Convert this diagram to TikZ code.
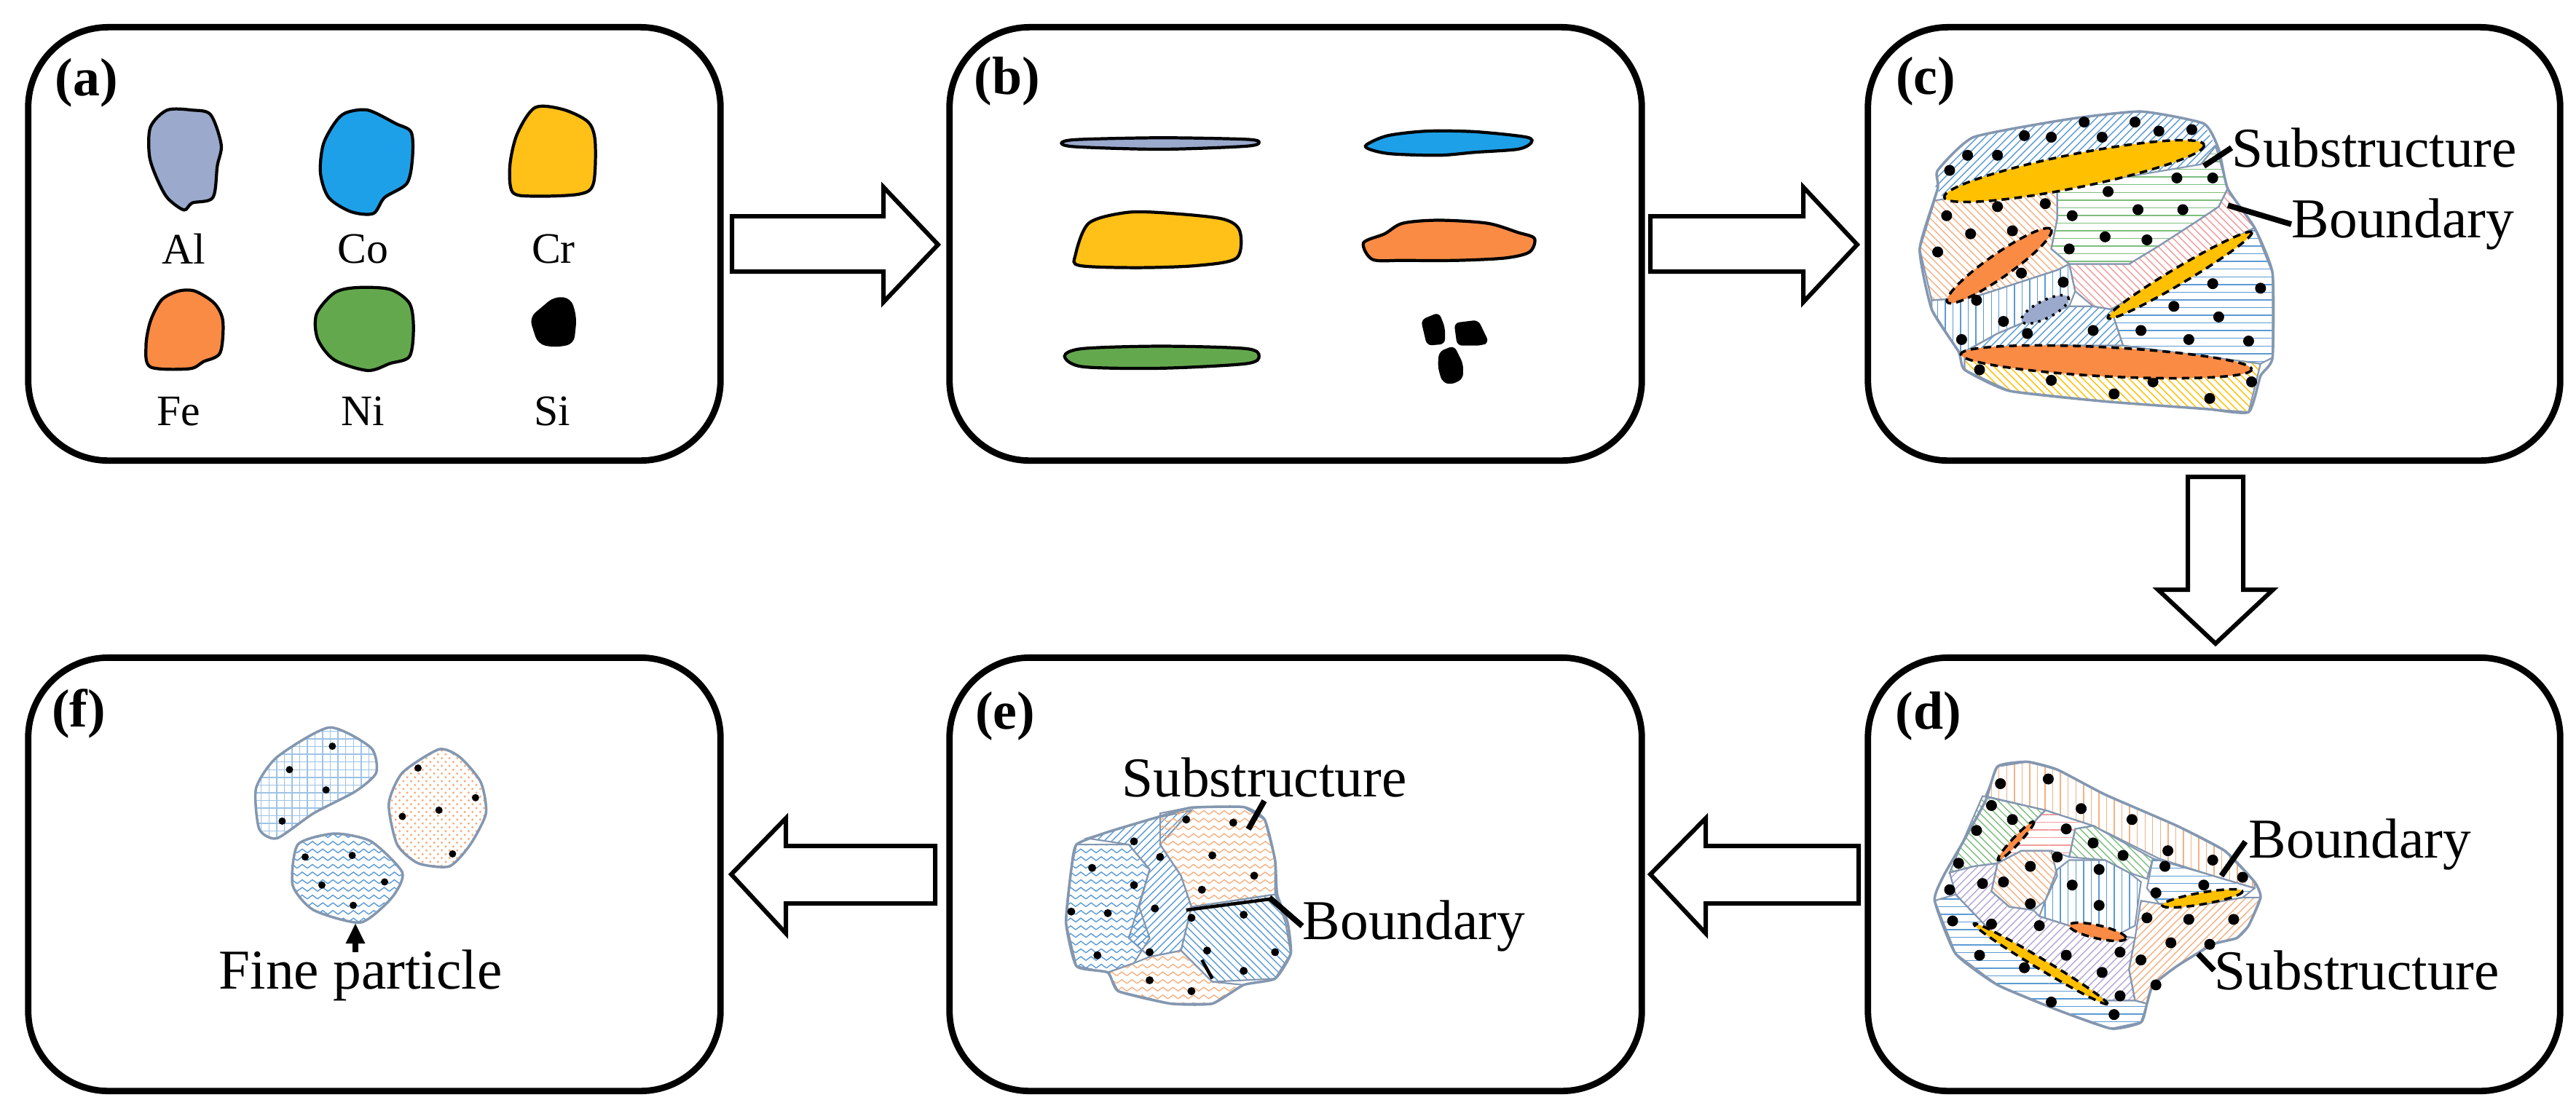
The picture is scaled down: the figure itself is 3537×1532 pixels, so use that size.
\documentclass[tikz,border=0pt]{standalone}
\usepackage{fontspec}
\setmainfont{Liberation Serif}
\usetikzlibrary{patterns,shapes.geometric,arrows.meta}
\definecolor{cAl}{HTML}{9AA9CC}
\definecolor{cCo}{HTML}{1EA0E8}
\definecolor{cCr}{HTML}{FFC018}
\definecolor{cFe}{HTML}{F98B45}
\definecolor{cNi}{HTML}{64A84E}
\definecolor{hb}{HTML}{5B9BD5}
\definecolor{ho}{HTML}{F4B183}
\definecolor{hg}{HTML}{7DBE7D}
\definecolor{hp}{HTML}{F19C9C}
\definecolor{hy}{HTML}{FFC000}
\definecolor{hv}{HTML}{B4A7D6}
\definecolor{gl}{HTML}{8497B0}
\pgfdeclarepatternformonly{zigzag}{\pgfpoint{-1pt}{-1pt}}{\pgfpoint{5pt}{4pt}}{\pgfpoint{4pt}{3pt}}{%
  \pgfsetlinewidth{0.4pt}\pgfpathmoveto{\pgfpoint{0pt}{0.5pt}}\pgfpathlineto{\pgfpoint{2pt}{2pt}}\pgfpathlineto{\pgfpoint{4pt}{0.5pt}}\pgfusepath{stroke}}
\begin{document}
\begin{tikzpicture}[x=0.01cm,y=-0.01cm,
  panel/.style={draw,line width=2.5pt,rounded corners=1.1cm,minimum width=9.5cm,minimum height=5.95cm,inner sep=0},
  plab/.style={font=\fontsize{21}{24}\selectfont\bfseries},
  elab/.style={font=\fontsize{17}{20}\selectfont},
  blab/.style={font=\fontsize{22}{26}\selectfont},
  part/.style={draw,line width=1.2pt},
  blk/.style={draw=black,line width=1.7pt,fill=white,line join=miter},
  reg/.style={draw=gl,line width=0.6pt},
  grain/.style={draw=gl,line width=1pt},
  dot/.style={circle,fill,inner sep=0,minimum size=0.15cm},
  sdot/.style={circle,fill,inner sep=0,minimum size=0.11cm},
  lead/.style={line width=2.2pt},
  ell/.style={draw,dashed,line width=1pt,dash pattern=on 3pt off 2pt}]
\useasboundingbox (0,0) rectangle (3537,1532);
% panels
\node[panel] (A) at (514,335) {};
\node[panel] (B) at (1779,335) {};
\node[panel] (C) at (3040,335) {};
\node[panel] (D) at (3040,1201) {};
\node[panel] (E) at (1779,1201) {};
\node[panel] (F) at (514,1201) {};
% block arrows
\draw[blk] (1005,297) -- (1213,297) -- (1213,257) -- (1288,336) -- (1213,415) -- (1213,373) -- (1005,373) -- cycle;
\draw[blk] (2266,297) -- (2476,297) -- (2476,257) -- (2550,336) -- (2476,415) -- (2476,373) -- (2266,373) -- cycle;
\draw[blk] (3004,655) -- (3080,655) -- (3080,810) -- (3121,810) -- (3042,884) -- (2963,810) -- (3004,810) -- cycle;
\draw[blk] (2552,1162) -- (2342,1162) -- (2342,1124) -- (2266,1201) -- (2342,1282) -- (2342,1241) -- (2552,1241) -- cycle;
\draw[blk] (1284,1162) -- (1079,1162) -- (1079,1124) -- (1004,1201) -- (1079,1282) -- (1079,1241) -- (1284,1241) -- cycle;
% labels
\node[plab] (la) at (119,114) {(a)};
\node[plab] (lb) at (1383,112) {(b)};
\node[plab] (lc) at (2644,112) {(c)};
\node[plab] (ld) at (2648,984) {(d)};
\node[plab] (le) at (1380,984) {(e)};
\node[plab] (lf) at (108,980) {(f)};
% ---------- (a)
\begin{scope}[xscale=0.7651,yscale=0.4847]
\draw[part,fill=cAl] plot[smooth cycle,tension=0.5] coordinates{(300,312)(345,312)(378,325)(397,410)(390,470)(382,560)(345,575)(330,595)(300,560)(280,500)(268,440)(270,360)};
\draw[part,fill=cCo] plot[smooth cycle,tension=0.5] coordinates{(620,320)(660,312)(710,350)(738,375)(740,450)(730,520)(690,560)(670,605)(630,600)(590,560)(575,490)(580,410)(600,350)};
\draw[part,fill=cCr] plot[smooth cycle,tension=0.5] coordinates{(960,305)(1010,310)(1055,345)(1068,400)(1065,520)(1040,550)(960,556)(920,545)(915,470)(928,380)};
\draw[part,fill=cFe] plot[smooth cycle,tension=0.5] coordinates{(320,825)(350,825)(385,860)(400,910)(395,1000)(365,1025)(340,1045)(270,1040)(262,980)(270,910)(290,850)};
\draw[part,fill=cNi] plot[smooth cycle,tension=0.5] coordinates{(640,815)(700,820)(735,860)(742,930)(735,1010)(700,1030)(660,1050)(600,1020)(570,960)(568,890)(600,830)};
\fill[rounded corners=3pt] (995,840)--(1025,845)--(1035,900)--(1030,975)--(995,985)--(965,975)--(950,900)--cycle;
\end{scope}
\node[elab] (tAl) at (252,342) {Al};
\node[elab] (tCo) at (498,342) {Co};
\node[elab] (tCr) at (760,342) {Cr};
\node[elab] (tFe) at (245,565) {Fe};
\node[elab] (tNi) at (498,565) {Ni};
\node[elab] (tSi) at (758,565) {Si};
% ---------- (b)
\begin{scope}[shift={(1130,10)},xscale=0.8292,yscale=0.4149]
\draw[part,fill=cAl] plot[smooth cycle,tension=0.5] coordinates{(395,450)(420,438)(560,432)(700,437)(722,447)(700,460)(560,470)(420,462)};
\draw[part,fill=cCo] plot[smooth cycle,tension=0.5] coordinates{(900,455)(935,425)(1000,410)(1080,412)(1165,430)(1172,450)(1150,470)(1080,480)(1020,490)(940,485)(905,470)};
\draw[part,fill=cCr] plot[smooth cycle,tension=0.5] coordinates{(440,715)(500,680)(560,680)(660,700)(690,740)(685,830)(620,855)(520,862)(425,855)(418,820)};
\draw[part,fill=cFe] plot[smooth cycle,tension=0.5] coordinates{(895,780)(930,750)(960,715)(1020,705)(1100,715)(1150,745)(1178,765)(1170,810)(1130,830)(1050,838)(960,838)(910,835)};
\draw[part,fill=cNi] plot[smooth cycle,tension=0.5] coordinates{(400,1155)(430,1130)(560,1122)(700,1130)(722,1155)(700,1180)(560,1195)(430,1190)};
\fill[rounded corners=2pt] (990,1035)--(1020,1010)--(1030,1060)--(1030,1115)--(1000,1120)--cycle;
\fill[rounded corners=2pt] (1045,1045)--(1085,1035)--(1103,1110)--(1090,1120)--(1050,1120)--cycle;
\fill[rounded corners=2pt] (1020,1140)--(1045,1120)--(1060,1180)--(1060,1230)--(1040,1250)--(1025,1240)--(1018,1190)--cycle;
\end{scope}
% ---------- (c)
\begin{scope}[shift={(2250,10)},xscale=0.8210,yscale=0.4149]
\path[pattern=north east lines,pattern color=hb] (500,540)--(560,430)--(720,370)--(840,345)--(945,385)--(965,460)--(940,520)--(700,600)--(510,635)--(495,590)--cycle;
\path[reg,pattern=horizontal lines,pattern color=hg] (700,600)--(940,520)--(965,460)--(985,600)--(970,660)--(940,700)--(870,790)--(820,850)--(720,850)--(690,800)--(700,700)--cycle;
\path[reg,pattern=north west lines,pattern color=ho] (510,635)--(700,600)--(700,700)--(690,800)--(720,850)--(700,870)--(560,960)--(490,970)--(470,800)--(495,640)--cycle;
\path[reg,pattern=vertical lines,pattern color=hb] (490,970)--(560,960)--(700,870)--(720,850)--(730,940)--(720,990)--(660,1030)--(600,1080)--(545,1140)--(535,1140)--(490,1000)--cycle;
\path[reg,pattern=north west lines,pattern color=hp] (720,850)--(820,850)--(870,790)--(940,700)--(970,660)--(985,600)--(1030,730)--(1000,760)--(880,900)--(790,1000)--(760,990)--(730,940)--cycle;
\path[reg,pattern=horizontal lines,pattern color=hb] (1030,730)--(1060,880)--(1060,1160)--(1040,1180)--(810,1120)--(790,1000)--(880,900)--(1000,760)--cycle;
\path[reg,pattern=north east lines,pattern color=hb] (600,1080)--(660,1030)--(720,990)--(760,990)--(790,1000)--(810,1120)--(700,1120)--(545,1140)--cycle;
\path[reg,pattern=north west lines,pattern color=hy] (545,1140)--(700,1120)--(810,1120)--(1040,1180)--(1020,1340)--(950,1330)--(780,1305)--(620,1270)--(545,1200)--cycle;
\draw[grain] plot[smooth cycle,tension=0.3] coordinates{(500,540)(560,430)(720,370)(840,345)(945,385)(970,470)(985,600)(1030,730)(1060,880)(1060,1160)(1040,1220)(1020,1340)(950,1330)(780,1305)(620,1270)(545,1200)(535,1140)(490,1000)(470,800)(500,600)};
\foreach \p in {(745,380),(830,380),(870,410),(925,405),(690,430),(775,430),(645,425),(600,490),(550,490),(520,540),(900,565),(960,565),(785,610),(600,660),(515,690),(680,650),(725,690),(835,670),(910,670),(625,740),(555,750),(500,810),(780,760),(850,770),(720,800),(710,910),(640,880),(565,970),(610,1040),(540,1100),(650,1080),(760,1070),(960,915),(1040,930),(895,990),(970,1025),(840,1070),(920,1100),(1020,1105),(570,1200),(690,1235),(860,1240),(1025,1240),(795,1280),(955,1295)}
  \node[dot] at \p {};
\end{scope}
\draw[ell,fill=hy,rotate around={11.4:(2848,235)}] (2848,235) ellipse [x radius=182,y radius=23];
\draw[ell,fill=cFe,rotate around={35:(2745,365)}] (2745,365) ellipse [x radius=87,y radius=16];
\draw[ell,fill=cAl,dotted,rotate around={27:(2808,425)}] (2808,425) ellipse [x radius=36,y radius=12];
\draw[ell,fill=hy,rotate around={30.8:(2993,378)}] (2993,378) ellipse [x radius=115,y radius=11];
\draw[ell,fill=cFe,rotate around={-3:(2892,497)}] (2892,497) ellipse [x radius=200,y radius=20];
\node[blab,anchor=west,inner sep=0] (cS) at (3064,203) {Substructure};
\node[blab,anchor=west,inner sep=0] (cB) at (3146,308) {Boundary};
\coordinate (cS1) at (3026,228);
\coordinate (cB1) at (3059,282);
\draw[lead] (cS.west) -- (cS1);
\draw[lead] (cB.west) -- (cB1);
% ---------- (d)
\begin{scope}[shift={(2250,860)},xscale=0.8210,yscale=0.4286]
\path[reg,pattern=vertical lines,pattern color=ho] (580,545)--(600,450)--(650,435)--(700,460)--(780,540)--(900,640)--(980,720)--(1030,820)--(1030,840)--(960,800)--(870,745)--(760,640)--(680,590)--cycle;
\path[reg,pattern=north west lines,pattern color=hg] (575,545)--(680,590)--(650,650)--(600,760)--(560,770)--(520,790)--(540,700)--cycle;
\path[reg,pattern=north west lines,pattern color=hg] (730,650)--(760,640)--(860,745)--(850,810)--(820,790)--(780,750)--(720,740)--cycle;
\path[reg,pattern=horizontal lines,pattern color=hp] (680,590)--(760,640)--(730,650)--(720,740)--(690,720)--(640,720)--(600,760)--(650,650)--cycle;
\path[reg,pattern=north west lines,pattern color=ho] (600,760)--(640,720)--(690,720)--(700,800)--(680,880)--(660,910)--(620,900)--(590,850)--cycle;
\path[reg,pattern=vertical lines,pattern color=hb] (700,780)--(720,750)--(780,750)--(820,790)--(840,820)--(830,960)--(800,990)--(720,960)--(670,930)--(680,880)--cycle;
\path[reg,pattern=horizontal lines,pattern color=hb] (860,745)--(960,800)--(1030,840)--(1010,870)--(950,890)--(870,890)--(850,840)--cycle;
\path[reg,pattern=north east lines,pattern color=hv] (520,790)--(560,770)--(600,760)--(590,850)--(620,900)--(660,910)--(670,930)--(720,960)--(800,990)--(830,1000)--(820,1100)--(830,1200)--(780,1200)--(700,1100)--(600,1000)--(530,860)--cycle;
\path[reg,pattern=horizontal lines,pattern color=hb] (495,880)--(530,860)--(600,1000)--(700,1100)--(780,1200)--(830,1200)--(850,1210)--(840,1270)--(790,1290)--(700,1230)--(600,1150)--(530,1050)--cycle;
\path[reg,pattern=north east lines,pattern color=ho] (870,890)--(950,890)--(1010,870)--(1040,870)--(1020,960)--(1000,1000)--(960,1020)--(900,1090)--(860,1150)--(850,1210)--(830,1200)--(820,1100)--(830,1000)--(840,880)--cycle;
\draw[grain] plot[smooth cycle,tension=0.3] coordinates{(600,450)(650,435)(700,460)(780,540)(900,640)(980,720)(1030,820)(1040,870)(1020,960)(1000,1000)(960,1020)(900,1090)(860,1150)(850,1210)(840,1270)(790,1290)(700,1230)(600,1150)(530,1050)(495,880)(510,800)(540,700)(580,560)};
\foreach \p in {(605,505),(685,490),(740,585),(825,620),(590,575),(625,620),(565,655),(715,650),(760,695),(810,735),(885,720),(960,750),(1010,805),(880,770),(945,830),(865,855),(535,760),(520,845),(575,825),(610,820),(655,770),(700,740),(725,830),(770,780),(770,895),(655,890),(850,935),(920,940),(995,940),(590,955),(525,945),(670,960),(715,1055),(570,1055),(645,1095),(775,1110),(805,1045),(840,1070),(890,1015),(955,1020),(865,1150),(805,1185),(690,1205),(795,1245)}
  \node[dot] at \p {};
\end{scope}
\draw[ell,fill=hy,rotate around={10:(3024,1234)}] (3024,1234) ellipse [x radius=56,y radius=8];
\draw[ell,fill=hy,rotate around={-31:(2802,1324)}] (2802,1324) ellipse [x radius=107,y radius=7];
\draw[ell,fill=cFe,rotate around={-13:(2880,1280)}] (2880,1280) ellipse [x radius=40,y radius=9];
\draw[ell,fill=cFe,rotate around={47:(2768,1155)}] (2768,1155) ellipse [x radius=36,y radius=5];
\node[blab,anchor=west,inner sep=0] (dB) at (3087,1160) {Boundary};
\node[blab,anchor=west,inner sep=0] (dS) at (3040,1333) {Substructure};
\coordinate (dB1) at (3050,1203);
\coordinate (dS1) at (3018,1310);
\draw[lead] (3083,1156) -- (dB1);
\draw[lead] (dS.west) -- (dS1);
% ---------- (e)
\begin{scope}[shift={(0,860)},xscale=1.4350,yscale=0.4286]
\path[reg,pattern=north east lines,pattern color=hb] (1040,680)--(1100,620)--(1140,590)--(1110,700)--(1130,800)--(1140,900)--(1130,1040)--(1100,1060)--(1080,1000)--(1100,780)--(1080,700)--cycle;
\path[reg,pattern=zigzag,pattern color=hb] (1030,700)--(1080,700)--(1100,780)--(1090,900)--(1100,1000)--(1085,1080)--(1060,1110)--(1030,1090)--(1020,950)--(1025,780)--cycle;
\path[reg,pattern=zigzag,pattern color=ho] (1110,600)--(1140,580)--(1190,580)--(1210,620)--(1220,750)--(1220,860)--(1140,900)--(1130,800)--(1110,700)--cycle;
\path[reg,pattern=north west lines,pattern color=hb] (1140,900)--(1220,860)--(1230,950)--(1235,1050)--(1220,1130)--(1160,1140)--(1130,1040)--cycle;
\path[reg,pattern=zigzag,pattern color=ho] (1100,1060)--(1130,1040)--(1160,1140)--(1190,1150)--(1160,1210)--(1120,1210)--(1070,1170)--(1060,1110)--(1085,1080)--cycle;
\draw[grain] plot[smooth cycle,tension=0.3] coordinates{(1030,700)(1060,660)(1110,610)(1140,582)(1190,580)(1210,620)(1220,750)(1222,860)(1232,950)(1235,1050)(1220,1130)(1190,1150)(1160,1210)(1120,1210)(1070,1170)(1060,1110)(1030,1090)(1020,950)(1025,780)};
\draw[line width=1.3pt] (1135,910) -- (1215,875);
\draw[line width=1.3pt] (1150,1070) -- (1160,1130);
\foreach \p in {(1135,620),(1180,630),(1085,690),(1110,740),(1160,735),(1200,800),(1045,775),(1085,830),(1150,845),(1105,905),(1025,915),(1060,920),(1140,935),(1190,925),(1100,1045),(1155,1040),(1220,1045),(1050,1055),(1190,1105),(1100,1135),(1140,1170)}
  \node[sdot] at \p {};
% ---------- (f)
\path[grain,pattern=grid,pattern color=hb!60] plot[smooth cycle,tension=0.4] coordinates{(315,325)(355,390)(360,470)(340,530)(300,600)(265,680)(248,650)(245,520)(265,420)};
\path[grain,pattern=crosshatch dots,pattern color=ho] plot[smooth cycle,tension=0.4] coordinates{(420,395)(440,420)(460,500)(465,600)(450,700)(430,770)(400,760)(380,700)(372,570)(385,470)};
\path[grain,pattern=zigzag,pattern color=hb] plot[smooth cycle,tension=0.4] coordinates{(320,665)(355,690)(385,790)(375,870)(345,950)(300,910)(280,830)(285,700)};
\foreach \p in {(318,385),(277,460),(312,525),(270,625),(400,455),(455,550),(420,590),(385,610),(433,730),(292,740),(337,735),(308,830),(368,820),(338,895)}
  \node[sdot,minimum size=0.1cm] at \p {};
\end{scope}
\node[blab] (eS) at (1736,1068) {Substructure};
\node[blab,anchor=west,inner sep=0] (eB) at (1788,1272) {Boundary};
\coordinate (eS1) at (1714,1139);
\coordinate (eB1) at (1743,1233);
\draw[lead] (1736,1100) -- (eS1);
\draw[lead] (eB.west) -- (eB1);
\node[blab] (fP) at (495,1340) {Fine particle};
\coordinate (fP1) at (488,1268);
\draw[lead,-{Triangle[length=8pt,width=7pt]}] (488,1308) -- (fP1);
\end{tikzpicture}
\end{document}
